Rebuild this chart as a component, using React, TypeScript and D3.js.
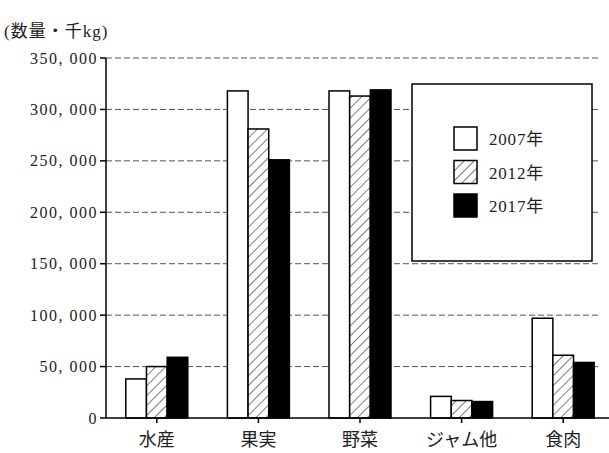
import * as d3 from "d3";

const categories = ["水産", "果実", "野菜", "ジャム他", "食肉"];
const years = ["2007年", "2012年", "2017年"];
const values2007 = [38000, 318000, 318000, 21000, 97000];
const values2012 = [50000, 281000, 313000, 17000, 61000];
const values2017 = [59000, 251000, 319000, 16000, 54000];
const yTicks = [0, 50000, 100000, 150000, 200000, 250000, 300000, 350000];

const width = 609;
const height = 453;
const margin = { top: 58, right: -5, bottom: 35, left: 106 };
const serif = "'Liberation Serif', 'DejaVu Serif', 'Noto Sans CJK JP', serif";

const fills = ["#ffffff", "url(#hatch)", "#000000"];

export default function App() {
  const series = [values2007, values2012, values2017];

  const x = d3
    .scaleBand<string>()
    .domain(categories)
    .range([margin.left, width - margin.right]);

  const xInner = d3
    .scaleBand<number>()
    .domain([0, 1, 2])
    .range([x.bandwidth() / 2 - 31, x.bandwidth() / 2 + 31]);

  const y = d3
    .scaleLinear()
    .domain([0, 350000])
    .range([height - margin.bottom, margin.top]);

  const fmt = (v: number) => d3.format(",")(v).replace(",", ", ");
  const baseY = y(0);

  return (
    <svg
      width={width}
      height={height}
      style={{ position: "absolute", left: 0, top: 0, background: "#fff" }}
    >
      <defs>
        <pattern id="hatch" width="7" height="7" patternUnits="userSpaceOnUse" patternTransform="rotate(45)">
          <rect width="7" height="7" fill="#fff" />
          <line x1="0" y1="0" x2="0" y2="7" stroke="#000" strokeWidth="1" />
        </pattern>
      </defs>

      <text x={4} y={37} fontFamily={serif} fontSize={17} letterSpacing={1} fill="#222">
        (数量・千kg)
      </text>

      {/* grid lines */}
      {yTicks.slice(1).map((t) => (
        <line
          key={t}
          x1={margin.left}
          x2={601}
          y1={y(t)}
          y2={y(t)}
          stroke="#555"
          strokeWidth={1}
          strokeDasharray="6,3"
        />
      ))}

      {/* y axis */}
      <line x1={margin.left} x2={margin.left} y1={y(350000)} y2={baseY} stroke="#000" strokeWidth={1.5} />
      {yTicks.map((t) => (
        <g key={t}>
          <line x1={margin.left - 6} x2={margin.left} y1={y(t)} y2={y(t)} stroke="#000" strokeWidth={1.5} />
          <text
            x={margin.left - 8}
            y={y(t) + 5.5}
            textAnchor="end"
            fontFamily={serif}
            fontSize={16}
            letterSpacing={1.5}
            fill="#222"
          >
            {fmt(t)}
          </text>
        </g>
      ))}

      {/* bars */}
      {categories.map((c, i) => (
        <g key={c} transform={`translate(${x(c)},0)`}>
          {series.map((s, j) => (
            <rect
              key={j}
              x={xInner(j)}
              y={y(s[i])}
              width={xInner.bandwidth()}
              height={baseY - y(s[i])}
              fill={fills[j]}
              stroke="#000"
              strokeWidth={1.5}
            />
          ))}
          <line
            x1={x.bandwidth() / 2}
            x2={x.bandwidth() / 2}
            y1={baseY}
            y2={baseY + 5}
            stroke="#000"
            strokeWidth={1.5}
          />
          <text
            x={x.bandwidth() / 2}
            y={baseY + 28}
            textAnchor="middle"
            fontFamily={serif}
            fontSize={18}
            fill="#222"
          >
            {c}
          </text>
        </g>
      ))}

      {/* baseline */}
      <line x1={margin.left} x2={width} y1={baseY} y2={baseY} stroke="#000" strokeWidth={1.5} />

      {/* legend */}
      <g>
        <rect x={412} y={84} width={180} height={177} fill="#fff" stroke="#000" strokeWidth={1.5} />
        {years.map((yr, j) => (
          <g key={yr} transform={`translate(454,${127 + j * 33.5})`}>
            <rect width={23} height={23} fill={fills[j]} stroke="#000" strokeWidth={1.5} />
            <text x={35} y={18} fontFamily={serif} fontSize={17} letterSpacing={0.8} fill="#222">
              {yr}
            </text>
          </g>
        ))}
      </g>
    </svg>
  );
}
